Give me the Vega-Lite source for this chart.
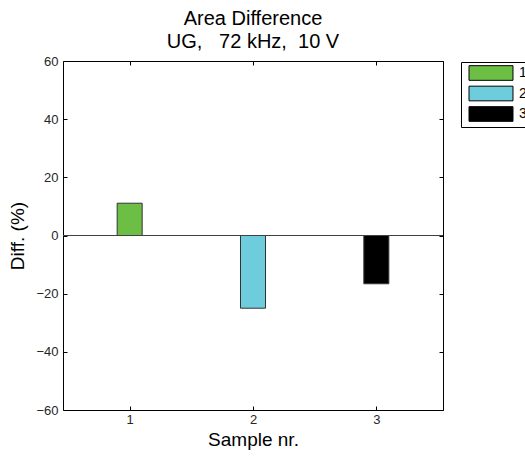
{
  "$schema": "https://vega.github.io/schema/vega-lite/v6.json",
  "width": 380,
  "height": 349,
  "autosize": "none",
  "padding": {"left": 63, "top": 61, "right": 82, "bottom": 47},
  "background": "white",
  "config": {
    "font": "Liberation Sans",
    "view": {"stroke": "black", "strokeWidth": 1},
    "axis": {"grid": false, "domain": false, "tickColor": "black", "labelColor": "#262626", "labelFontSize": 13, "titleFontSize": 19, "titleFontWeight": "normal", "titleColor": "black", "labelFont": "Liberation Sans", "titleFont": "Liberation Sans"}
  },
  "title": {
    "text": ["Area Difference", "UG,\u00a0\u00a0 72 kHz,\u00a0 10 V"],
    "fontSize": 20, "fontWeight": "normal", "font": "Liberation Sans", "color": "black",
    "anchor": "middle", "frame": "group", "lineHeight": 23.5, "offset": 3
  },
  "data": {"values": [
    {"sample": 1, "diff": 11.1, "series": "1"},
    {"sample": 2, "diff": -25.0, "series": "2"},
    {"sample": 3, "diff": -16.6, "series": "3"}
  ]},
  "resolve": {"axis": {"x": "independent", "y": "independent"}},
  "layer": [
    {
      "mark": {"type": "bar", "size": 25, "stroke": "#333333", "strokeWidth": 1},
      "encoding": {
        "x": {"field": "sample", "type": "quantitative", "scale": {"domain": [0.5, 3.5], "nice": false, "zero": false},
              "axis": {"values": [1, 2, 3], "title": "Sample nr.", "tickSize": -4, "labelPadding": 7, "titlePadding": 4}},
        "y": {"field": "diff", "type": "quantitative", "scale": {"domain": [-60, 60], "nice": false},
              "axis": {"values": [-60, -40, -20, 0, 20, 40, 60], "title": "Diff. (%)", "tickSize": -4, "labelPadding": 9, "titlePadding": 8}},
        "y2": {"datum": 0},
        "color": {"field": "series", "type": "nominal",
                  "scale": {"domain": ["1", "2", "3"], "range": ["#6cbe45", "#6dcddd", "#000000"]},
                  "legend": {"title": null, "orient": "none", "legendX": 398, "legendY": 1,
                             "strokeColor": "black", "fillColor": "white", "padding": 3,
                             "symbolType": "M-3,-1H3V1H-3Z", "symbolSize": 215, "symbolOffset": 19,
                             "symbolStrokeColor": "black", "symbolStrokeWidth": 1,
                             "rowPadding": 0.5, "labelOffset": 20, "labelFontSize": 14, "labelColor": "black", "labelFont": "Liberation Sans"}}
      }
    },
    {
      "mark": {"type": "rule", "color": "#404040", "strokeWidth": 1},
      "encoding": {"y": {"datum": 0, "axis": null}}
    },
    {
      "mark": {"type": "point", "opacity": 0},
      "encoding": {
        "x": {"field": "sample", "type": "quantitative", "axis": {"orient": "top", "values": [1, 2, 3], "labels": false, "title": null, "tickSize": -4}},
        "y": {"field": "diff", "type": "quantitative", "axis": {"orient": "right", "values": [-60, -40, -20, 0, 20, 40, 60], "labels": false, "title": null, "tickSize": -4}}
      }
    }
  ]
}
